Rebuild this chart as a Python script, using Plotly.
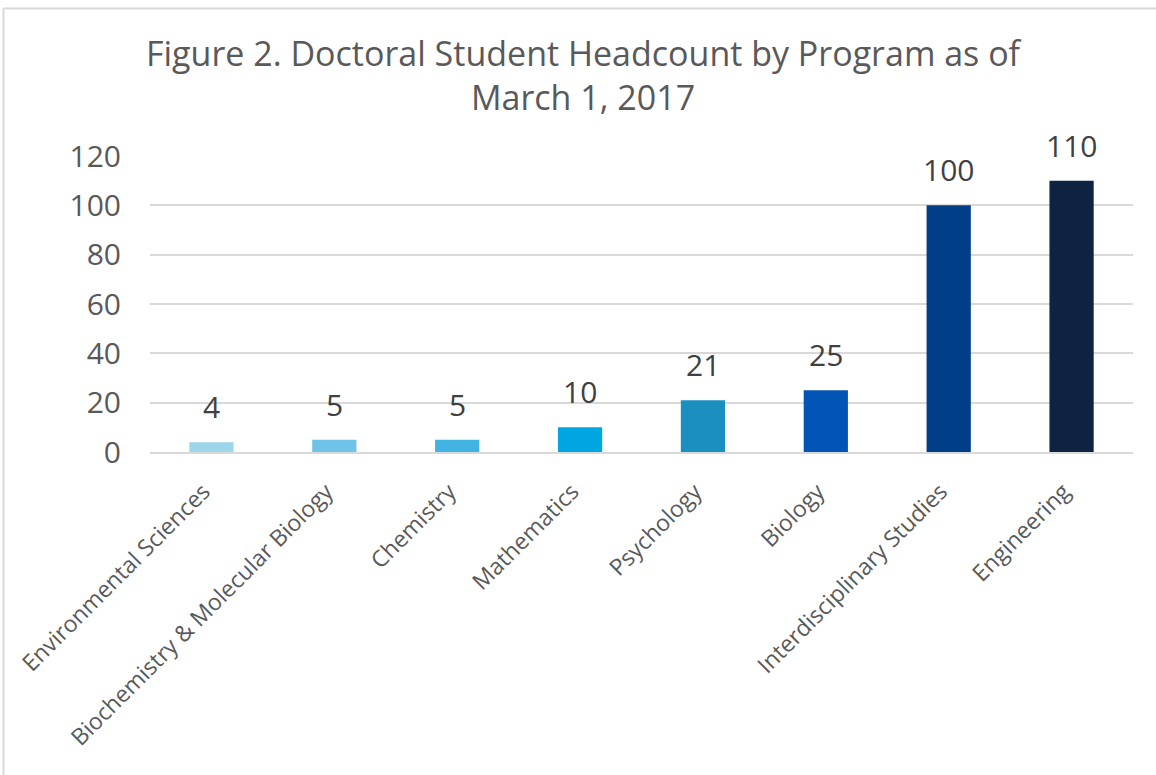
import plotly.graph_objects as go

programs = ["Environmental Sciences", "Biochemistry & Molecular Biology", "Chemistry",
            "Mathematics", "Psychology", "Biology", "Interdisciplinary Studies", "Engineering"]
headcount = [4, 5, 5, 10, 21, 25, 100, 110]
bar_colors = ["#9dd5ea", "#6fc3e8", "#41b3e3", "#00a6df", "#1a8fc0", "#0355b5", "#003f87", "#0e2242"]
y_ticks = [0, 20, 40, 60, 80, 100, 120]

W, H = 1156, 775
L, R, T, B = 150, 23, 156, 323
pw, ph = W - L - R, H - T - B

fig = go.Figure(go.Bar(
    x=programs, y=headcount, marker=dict(color=bar_colors, line_width=0),
    width=0.36, hoverinfo="x+y",
))

for p, v in zip(programs, headcount):
    fig.add_annotation(x=p, y=v, xref="x", yref="y", text=str(v), showarrow=False,
                       yanchor="bottom", yshift=13,
                       font=dict(size=30, color="#404040", family="Open Sans"))

def px_x(p):
    return (p - L) / pw

def px_y(p):
    return (H - B - p) / ph

fig.update_layout(
    width=W, height=H, margin=dict(l=L, r=R, t=T, b=B),
    paper_bgcolor="white", plot_bgcolor="white",
    font=dict(family="Open Sans", color="#595959"),
    title=dict(text="Figure 2. Doctoral Student Headcount by Program as of<br>March 1, 2017",
               x=583 / W, xanchor="center", xref="container", y=1 - 66 / H, yanchor="middle",
               yref="container",
               font=dict(size=34, color="#595959", family="Open Sans")),
    showlegend=False,
    xaxis=dict(tickangle=-45, tickfont=dict(size=23, color="#595959"), showgrid=False,
               showline=True, linecolor="#d9d9d9", linewidth=2, ticks="",
               ticklabelstandoff=15, ticklabelshift=-8),
    yaxis=dict(range=[0, 120], tickvals=y_ticks, showgrid=True, gridcolor="#d9d9d9", gridwidth=2,
               tickfont=dict(size=30, color="#595959"), ticklabelstandoff=28, zeroline=False,
               ticks=""),
    shapes=[dict(type="line", xref="paper", yref="paper", x0=px_x(3), x1=px_x(W + 10),
                 y0=px_y(8.5), y1=px_y(8.5), line=dict(color="#d9d9d9", width=2)),
            dict(type="line", xref="paper", yref="paper", x0=px_x(3.5), x1=px_x(3.5),
                 y0=px_y(8), y1=px_y(H + 10), line=dict(color="#d9d9d9", width=2))],
)

fig.write_html("out.html", config={"displayModeBar": False},
               post_script="document.body.style.margin='0';document.body.style.overflow='hidden';")
